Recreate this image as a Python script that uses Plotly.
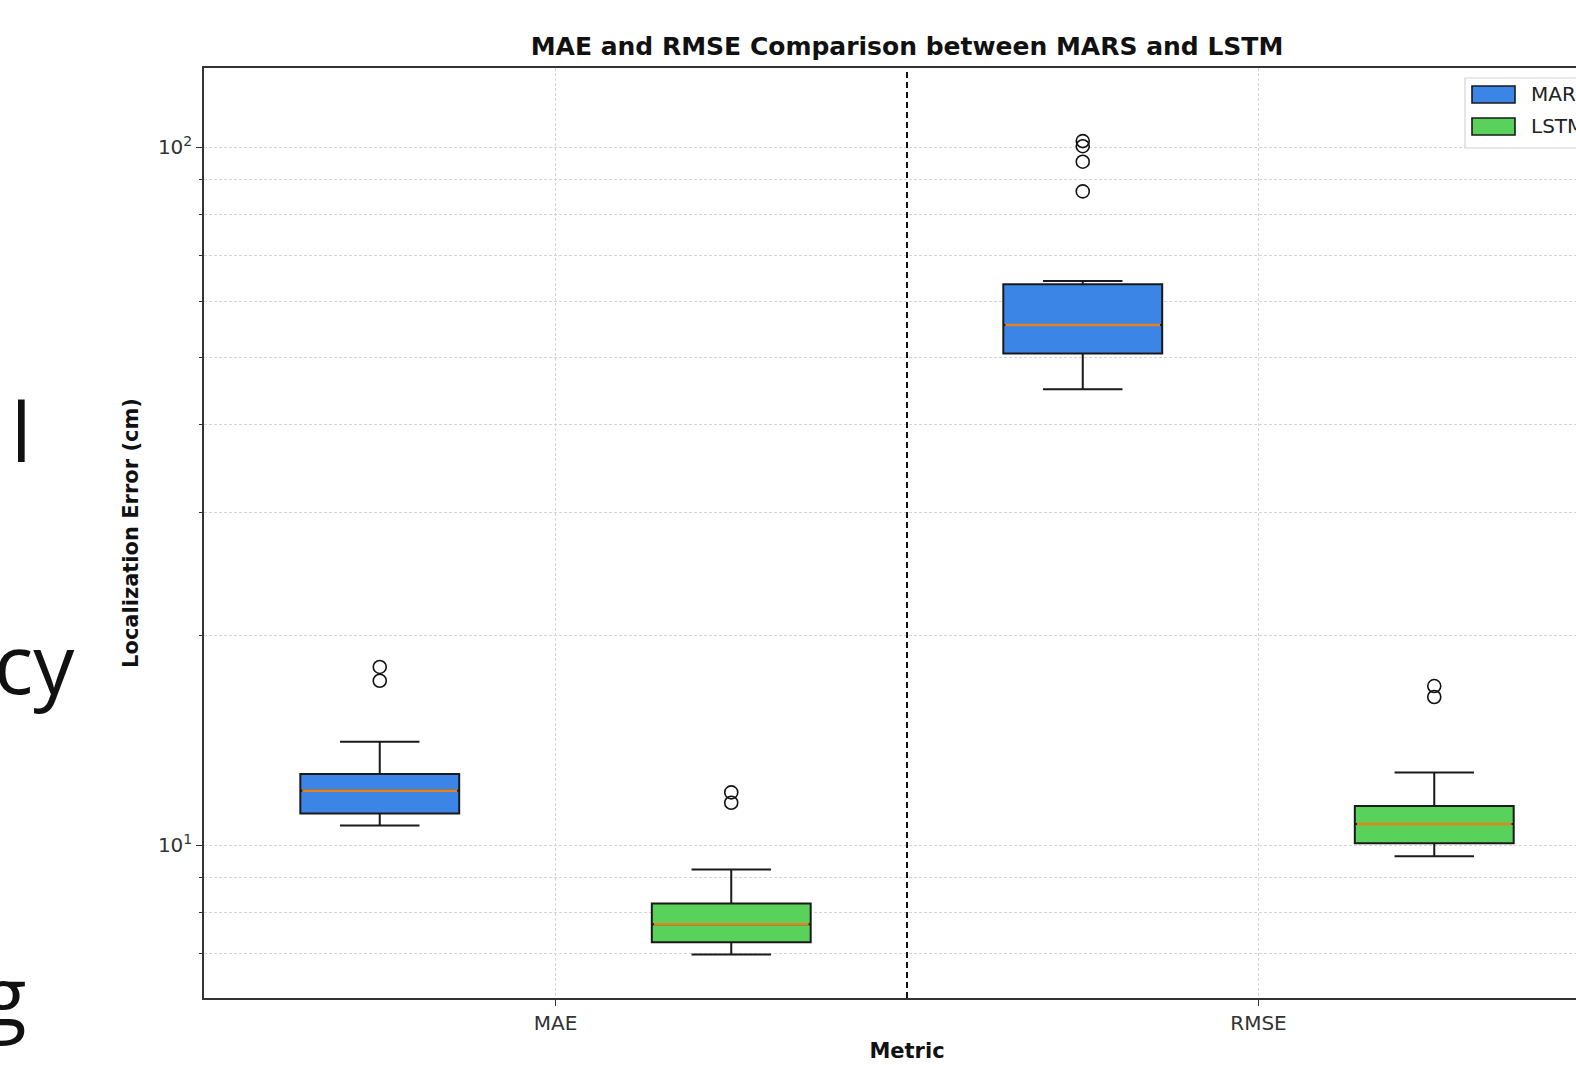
import plotly.graph_objects as go

# Box statistics (cm) for each metric / model
metrics = ["MAE", "RMSE"]
models = ["MARS", "LSTM"]

q1 = {"MAE": [11.10, 7.26], "RMSE": [50.6, 10.06]}
median = {"MAE": [11.96, 7.70], "RMSE": [55.6, 10.72]}
q3 = {"MAE": [12.64, 8.25], "RMSE": [63.6, 11.38]}
lower_whisker = {"MAE": [10.67, 6.97], "RMSE": [45.0, 9.64]}
upper_whisker = {"MAE": [14.06, 9.23], "RMSE": [64.3, 12.71]}
outliers = {
    "MAE": [[17.2, 18.0], [11.5, 11.9]],
    "RMSE": [[86.4, 95.3, 100.3, 102.0], [16.3, 16.9]],
}

model_colors = {"MARS": "#3a85e6", "LSTM": "#58d25a"}
median_color = "#e8801c"
offsets = {"MARS": -0.25, "LSTM": 0.25}
box_width = 0.226

# Large text fragments along the left edge
side_text = ["l", "cy", "g"]

FONT = "DejaVu Sans"

fig = go.Figure()

for mi, metric in enumerate(metrics):
    for ki, model in enumerate(models):
        pos = mi + offsets[model]
        fig.add_trace(go.Box(
            x=[pos],
            q1=[q1[metric][ki]],
            median=[median[metric][ki]],
            q3=[q3[metric][ki]],
            lowerfence=[lower_whisker[metric][ki]],
            upperfence=[upper_whisker[metric][ki]],
            width=box_width,
            whiskerwidth=0.5,
            orientation="v",
            fillcolor=model_colors[model],
            line=dict(color="#1a1a1a", width=2),
            boxpoints=False,
            name=model,
            showlegend=False,
            hoverinfo="skip",
        ))
        # median line drawn on top of the box
        fig.add_trace(go.Scatter(
            x=[pos - box_width / 2 + 0.003, pos + box_width / 2 - 0.003],
            y=[median[metric][ki]] * 2,
            mode="lines",
            line=dict(color=median_color, width=2.5),
            showlegend=False,
            hoverinfo="skip",
        ))
        # outlier points
        pts = outliers[metric][ki]
        fig.add_trace(go.Scatter(
            x=[pos] * len(pts),
            y=pts,
            mode="markers",
            marker=dict(symbol="circle-open", size=13, color="#111",
                        line=dict(width=1.6, color="#111")),
            showlegend=False,
            hoverinfo="skip",
        ))

# Dashed divider between the two metric groups
fig.add_shape(type="line", xref="x", yref="paper", x0=0.5, x1=0.5, y0=0, y1=1,
              line=dict(color="#111", width=2, dash="6px,4px"), layer="above")

# Legend drawn as a framed box with colour swatches
PX_L, PX_R, PX_T, PX_B = 204, 1610, 68, 998


def px_x(px):
    return (px - PX_L) / (PX_R - PX_L)


def px_y(py):
    return (PX_B - py) / (PX_B - PX_T)


fig.add_shape(type="rect", xref="paper", yref="paper",
              x0=px_x(1465), x1=px_x(1606), y0=px_y(148), y1=px_y(78),
              line=dict(color="#d4d4d4", width=1.2), fillcolor="rgba(255,255,255,0.85)",
              layer="above")
swatch_rows = [(86, 103), (118, 135)]
for model, (top, bot) in zip(models, swatch_rows):
    fig.add_shape(type="rect", xref="paper", yref="paper",
                  x0=px_x(1472), x1=px_x(1515), y0=px_y(bot), y1=px_y(top),
                  line=dict(color="#1a1a1a", width=1.6),
                  fillcolor=model_colors[model], layer="above")
    fig.add_annotation(xref="paper", yref="paper", x=px_x(1529), y=px_y((top + bot) / 2),
                       text=model, showarrow=False, xanchor="left", yanchor="middle",
                       font=dict(family=FONT, size=20, color="#222"))

# Large side text
side_pos = [(9, 430), (-8, 662), (-20, 994)]
for txt, (xp, yp) in zip(side_text, side_pos):
    fig.add_annotation(xref="paper", yref="paper", x=px_x(xp), y=px_y(yp),
                       text=txt, showarrow=False, xanchor="left", yanchor="middle",
                       font=dict(family="Open Sans", size=82, color="#111"))

minor_vals = [6, 7, 8, 9, 20, 30, 40, 50, 60, 70, 80, 90]

fig.update_layout(
    width=1640,
    height=1065,
    margin=dict(l=PX_L, r=1640 - PX_R, t=PX_T, b=1065 - PX_B),
    paper_bgcolor="white",
    plot_bgcolor="white",
    showlegend=False,
    title=dict(
        text="<b>MAE and RMSE Comparison between MARS and LSTM</b>",
        x=0.5, xref="paper", xanchor="center",
        y=1 - 46 / 1065, yref="container", yanchor="middle",
        font=dict(family=FONT, size=25, color="#111"),
    ),
    xaxis=dict(
        range=[-0.5, 1.5],
        automargin=False,
        tickmode="array", tickvals=[0, 1], ticktext=metrics,
        ticks="outside", ticklen=6, tickcolor="#333",
        showgrid=True, gridcolor="#d6d6d6", griddash="3px,2px", gridwidth=1,
        zeroline=False,
        showline=True, mirror=True, linecolor="#333", linewidth=1.5,
        tickfont=dict(family=FONT, size=20, color="#333"),
        title=dict(text="<b>Metric</b>", standoff=10,
                   font=dict(family=FONT, size=21, color="#111")),
    ),
    yaxis=dict(
        type="log",
        range=[0.781, 2.1133],
        automargin=False,
        tickmode="array", tickvals=[10, 100],
        ticktext=["10<sup>1</sup>", "10<sup>2</sup>"],
        ticks="outside", ticklen=6, tickcolor="#333",
        showgrid=True, gridcolor="#d6d6d6", griddash="3px,2px", gridwidth=1,
        minor=dict(tickmode="array", tickvals=minor_vals, ticks="outside",
                   ticklen=3, tickcolor="#333", showgrid=True,
                   gridcolor="#d6d6d6", griddash="3px,2px", gridwidth=1),
        zeroline=False,
        showline=True, mirror=True, linecolor="#333", linewidth=1.5,
        tickfont=dict(family=FONT, size=20, color="#333"),
        title=dict(text="<b>Localization Error (cm)</b>", standoff=14,
                   font=dict(family=FONT, size=21, color="#111")),
    ),
)

fig.write_html(
    "out.html",
    post_script="document.documentElement.style.overflow='hidden';"
                "document.body.style.overflow='hidden';",
)
